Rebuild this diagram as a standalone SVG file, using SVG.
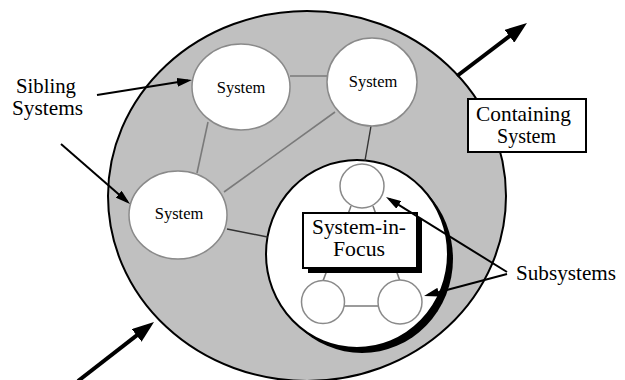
<svg xmlns="http://www.w3.org/2000/svg" width="625" height="380" viewBox="0 0 625 380">
<style>
  .lbl{font-family:"Liberation Serif","Times New Roman",serif;font-size:21px;fill:#000}
  .flbl{font-family:"Liberation Serif","Times New Roman",serif;font-size:21.5px;fill:#000}
  .sys{font-family:"Liberation Serif","Times New Roman",serif;font-size:16.5px;fill:#000;text-anchor:middle}
  .sib{fill:#fff;stroke:#8a8a8a;stroke-width:1.5}
  .sub{fill:#fff;stroke:#8a8a8a;stroke-width:1.5}
  .gl{stroke:#7a7a7a;stroke-width:1.6;fill:none}
  .dl{stroke:#333;stroke-width:1.4;fill:none}
  .box{fill:#fff;stroke:#000;stroke-width:2}
  .thick{stroke:#000;stroke-width:4;fill:none}
  .thin{stroke:#000;stroke-width:2;fill:none}
</style>
<defs>
  <marker id="bigHead" markerUnits="userSpaceOnUse" viewBox="0 0 22 16" markerWidth="22" markerHeight="16" refX="14" refY="8" orient="auto">
    <path d="M0,0 L22,8 L0,16 Z" fill="#000"/>
  </marker>
  <marker id="smallHead" markerUnits="userSpaceOnUse" viewBox="0 0 15 9" markerWidth="15" markerHeight="9" refX="11" refY="4.5" orient="auto">
    <path d="M0,0 L15,4.5 L0,9 Z" fill="#000"/>
  </marker>
</defs>

<g id="containing-system">
  <ellipse cx="307" cy="196" rx="199" ry="185" fill="#c0c0c0" stroke="#000" stroke-width="2"/>
</g>

<g id="system-in-focus">
  <ellipse cx="362" cy="259" rx="91" ry="94" fill="#000"/>
  <ellipse cx="357" cy="254" rx="91" ry="94" fill="#fff" stroke="#000" stroke-width="2"/>
</g>

<g id="connectors">
  <line class="gl" x1="290" y1="76" x2="327" y2="76"/>
  <line class="gl" x1="208" y1="122" x2="197" y2="173"/>
  <line class="gl" x1="335" y1="112" x2="224" y2="192"/>
  <line class="dl" x1="371" y1="126" x2="365" y2="160.5"/>
  <line class="dl" x1="227" y1="229" x2="267.5" y2="237"/>
  <line class="gl" x1="351" y1="206" x2="323" y2="281"/>
  <line class="gl" x1="373" y1="206" x2="400" y2="281"/>
  <line class="gl" x1="344" y1="306" x2="379" y2="306"/>
</g>

<g id="system-1">
  <ellipse class="sib" cx="241" cy="87" rx="49" ry="43"/>
  <text class="sys" x="241" y="92.5">System</text>
</g>
<g id="system-2">
  <ellipse class="sib" cx="372" cy="82" rx="45" ry="44"/>
  <text class="sys" x="373" y="87">System</text>
</g>
<g id="system-3">
  <ellipse class="sib" cx="178" cy="215" rx="49" ry="44"/>
  <text class="sys" x="179" y="219">System</text>
</g>

<g id="subsystem-top">
  <circle class="sub" cx="362" cy="186" r="22"/>
</g>
<g id="subsystem-left">
  <circle class="sub" cx="323" cy="302" r="21.5"/>
</g>
<g id="subsystem-right">
  <circle class="sub" cx="400" cy="302" r="22"/>
</g>

<g id="focus-label">
  <rect x="308" y="218" width="114" height="55" fill="#000"/>
  <rect class="box" x="303" y="213" width="114" height="55"/>
  <text class="flbl" x="312" y="234" textLength="94" lengthAdjust="spacingAndGlyphs">System-in-</text>
  <text class="flbl" x="333" y="256" textLength="52" lengthAdjust="spacingAndGlyphs">Focus</text>
</g>

<g id="containing-label">
  <rect class="box" x="468" y="99" width="118" height="53"/>
  <text class="lbl" x="476" y="121" textLength="95" lengthAdjust="spacingAndGlyphs">Containing</text>
  <text class="lbl" x="497" y="143" textLength="59" lengthAdjust="spacingAndGlyphs">System</text>
</g>

<g id="sibling-label">
  <text class="lbl" x="16" y="93" textLength="60" lengthAdjust="spacingAndGlyphs">Sibling</text>
  <text class="lbl" x="12" y="115" textLength="71" lengthAdjust="spacingAndGlyphs">Systems</text>
</g>

<g id="subsystems-label">
  <text class="lbl" x="516" y="280" textLength="100" lengthAdjust="spacingAndGlyphs">Subsystems</text>
</g>

<g id="arrows">
  <line class="thick" x1="457" y1="76" x2="520.6" y2="27.8" marker-end="url(#bigHead)"/>
  <line class="thick" x1="78" y1="381" x2="147.7" y2="326.9" marker-end="url(#bigHead)"/>
  <line class="thin" x1="97" y1="95" x2="188" y2="80.6" marker-end="url(#smallHead)"/>
  <line class="thin" x1="61" y1="144" x2="127" y2="201.4" marker-end="url(#smallHead)"/>
  <line class="thin" x1="507" y1="272" x2="389.4" y2="199.1" marker-end="url(#smallHead)"/>
  <line class="thin" x1="507" y1="274" x2="427.9" y2="295" marker-end="url(#smallHead)"/>
</g>
</svg>
